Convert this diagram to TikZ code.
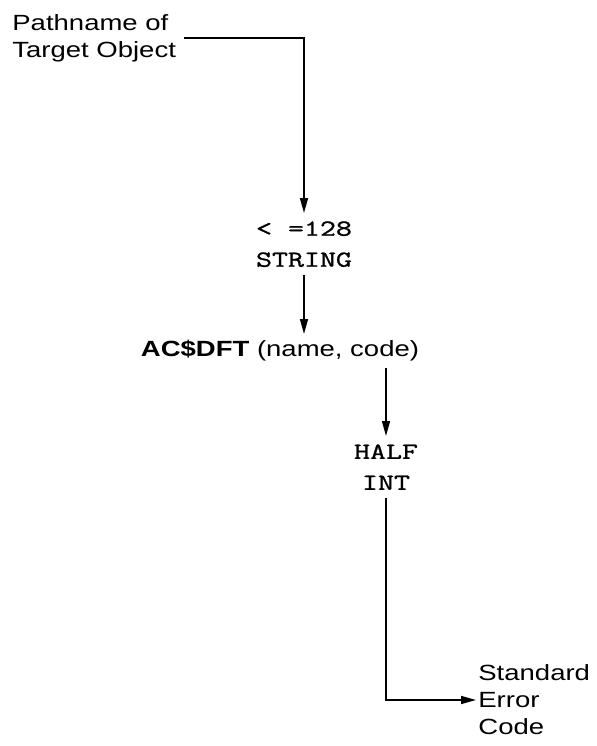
\documentclass[tikz,border=0pt]{standalone}
\usepackage{fontspec}
\usepackage{tikz}
\usetikzlibrary{arrows.meta,positioning}

\newfontfamily\diagsans{Liberation Sans}[FakeStretch=1.25]
\newfontfamily\diagmono{Latin Modern Mono}[FakeStretch=1.35, FakeBold=1.2]
\newcommand{\sanstext}{\diagsans\fontsize{11}{13.5}\selectfont}
\newcommand{\monotext}{\diagmono\fontsize{11.5}{15.5}\selectfont}

\begin{document}
\begin{tikzpicture}[
  x=0.5pt, y=-0.5pt,
  lbl/.style={inner xsep=4pt, inner ysep=0pt, align=left, font=\sanstext},
  typ/.style={inner xsep=3pt, inner ysep=4pt, align=center, font=\monotext},
  arr/.style={-{Triangle[length=7.5pt,width=4pt]}, line width=0.8pt}
]
  \useasboundingbox (0,0) rectangle (597,746);
  \node[lbl, anchor=north west] (src) at (4,14) {Pathname of\\Target Object};
  \node[typ, anchor=north] (lim) at (304,213) {<\ =128\\STRING};
  \node[typ, font=\sanstext, inner ysep=3pt, anchor=north] (call) at (280,334) {\textbf{AC\$DFT} (name, code)};
  \node[typ, anchor=north] (half) at (386,436) {HALF\\INT};
  \node[lbl, inner xsep=1pt, anchor=west] (err) at (476,700) {Standard\\Error\\Code};
  \draw[arr] (src.east) -| (lim.north);
  \draw[arr] (lim.south) -- (lim.south |- call.north);
  \draw[arr] (half.north |- call.south) -- (half.north);
  \draw[arr] (half.south) |- (err.west);
\end{tikzpicture}
\end{document}
